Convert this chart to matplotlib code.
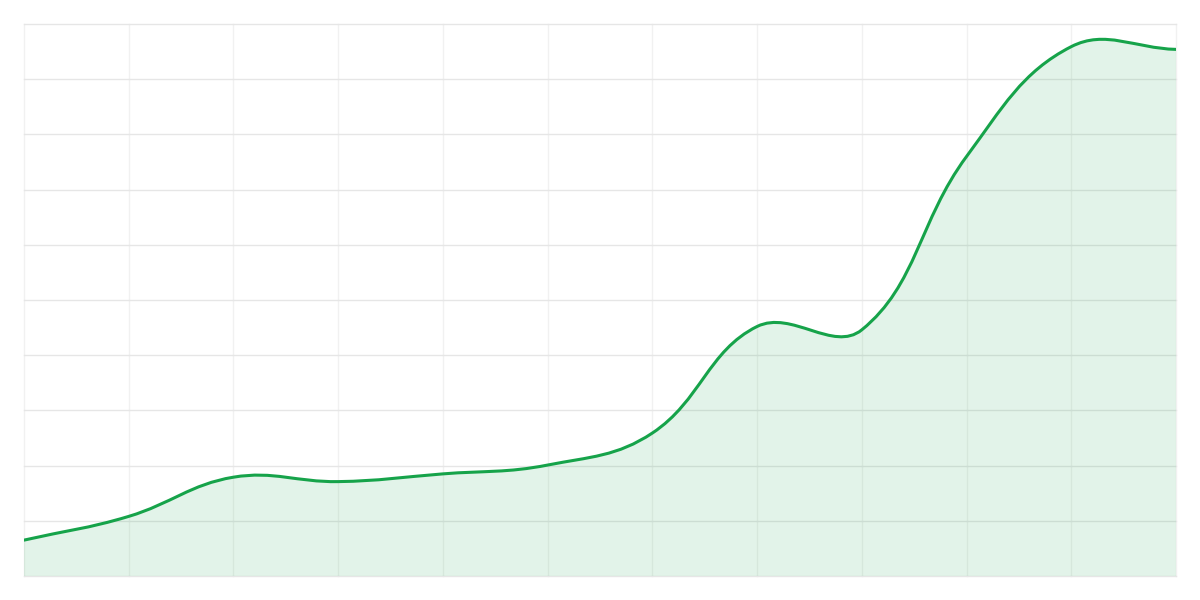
import numpy as np
import matplotlib; matplotlib.use("Agg")
import matplotlib.pyplot as plt
from matplotlib.path import Path
from matplotlib.patches import PathPatch

# values, one per vertical grid line
x_pos = np.arange(12)
values = [6.5, 10.8, 17.9, 17.1, 18.5, 20.1, 25.9, 45.2, 44.6, 76.0, 95.9, 95.4]

LINE = "#16a34a"
GRID_H = "#e6e6e6"
GRID_V = "#f1f1f1"
TENSION = 0.4

fig = plt.figure(figsize=(12, 6), dpi=100)
ax = fig.add_axes([0.02, 0.04, 0.96, 0.92])
ax.set_xlim(0, 11); ax.set_ylim(0, 100)

for xv in x_pos:
    ax.axvline(xv, color=GRID_V, lw=1, zorder=0, clip_on=False)
for yv in range(0, 101, 10):
    ax.axhline(yv, color=GRID_H, lw=1, zorder=0, clip_on=False)

# bezier control points worked out in display space (spline with tension)
pts = ax.transData.transform(np.column_stack([x_pos, values]))
n = len(pts)
cp_prev = pts.copy(); cp_next = pts.copy()
for i in range(n):
    p0 = pts[max(i - 1, 0)]; p1 = pts[i]; p2 = pts[min(i + 1, n - 1)]
    d01 = np.hypot(*(p1 - p0)); d12 = np.hypot(*(p2 - p1))
    tot = d01 + d12
    s01 = d01 / tot if tot else 0; s12 = d12 / tot if tot else 0
    cp_prev[i] = p1 - TENSION * s01 * (p2 - p0)
    cp_next[i] = p1 + TENSION * s12 * (p2 - p0)

inv = ax.transData.inverted()
verts = [pts[0]]; codes = [Path.MOVETO]
for i in range(n - 1):
    verts += [cp_next[i], cp_prev[i + 1], pts[i + 1]]
    codes += [Path.CURVE4] * 3
verts = inv.transform(np.array(verts))

line_path = Path(verts, codes)
fill_path = Path(np.vstack([verts, [[x_pos[-1], 0], [x_pos[0], 0], verts[0]]]),
                 codes + [Path.LINETO, Path.LINETO, Path.CLOSEPOLY])
ax.add_patch(PathPatch(fill_path, facecolor=LINE, alpha=0.12, lw=0, zorder=1))
ax.add_patch(PathPatch(line_path, facecolor="none", edgecolor=LINE, lw=2.2,
                       capstyle="round", joinstyle="round", zorder=2))

ax.set_xticks([]); ax.set_yticks([])
for s in ax.spines.values():
    s.set_visible(False)

fig.savefig("out.png", dpi=100)
